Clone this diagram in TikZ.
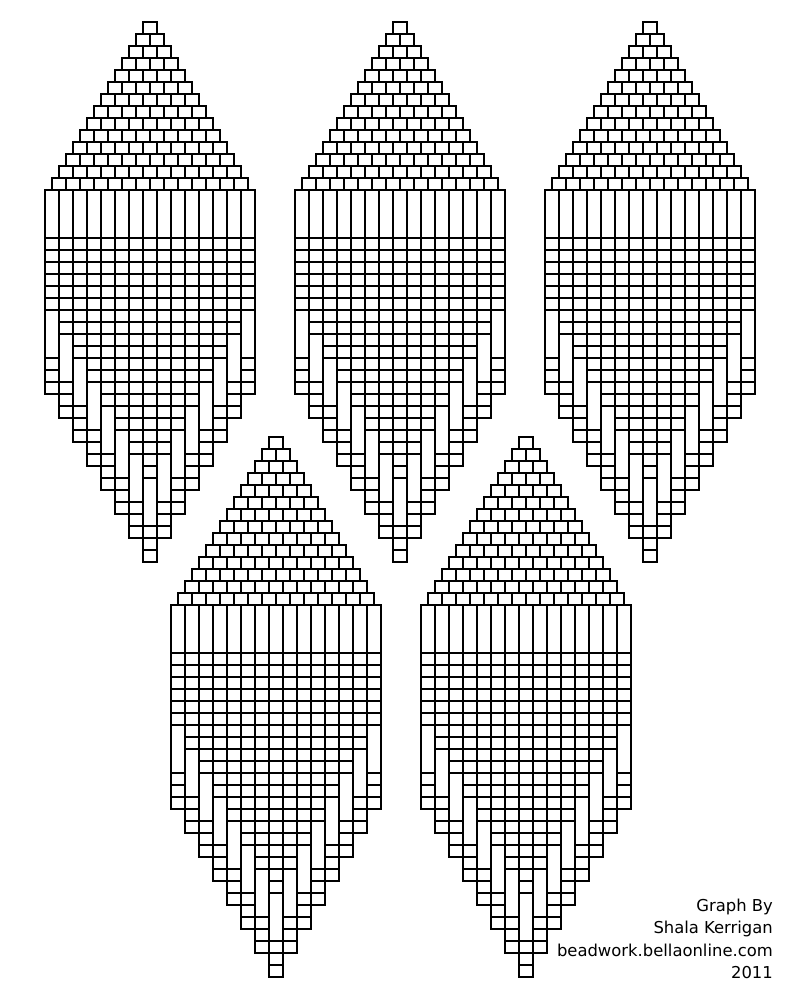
\documentclass[tikz,border=0pt]{standalone}
\usepackage{fontspec}
\newfontfamily\creditfont{DejaVu Sans}
\usetikzlibrary{positioning}

\tikzset{
  bead/.style={draw=black, line width=1.7pt, fill=white},
  credit/.style={font=\creditfont\fontsize{16.4}{22.2}\selectfont, inner sep=0pt, align=right}
}

% one earring: left edge of fringe, top of peak
\newcommand{\earring}[2]{%
  \begin{scope}[shift={(#1,#2)}]
    % brick stitch peak
    \foreach \r in {1,...,14} {
      \foreach \i in {1,...,\r} {
        \draw[bead] ({105-7*\r+14*(\i-1)},{12*(\r-1)}) rectangle ++(14,12);
      }
    }
    % fringe
    \foreach \c in {1,...,15} {
      \pgfmathtruncatemacro{\n}{4+2*min(\c,16-\c)}
      \pgfmathsetmacro{\x}{14*(\c-1)}
      \draw[bead] (\x,168) rectangle ++(14,48);
      \foreach \j in {1,...,\n} {
        \draw[bead] (\x,{204+12*\j}) rectangle ++(14,12);
      }
      \draw[bead] (\x,{216+12*\n}) rectangle ++(14,48);
      \foreach \j in {1,2,3} {
        \draw[bead] (\x,{252+12*\n+12*\j}) rectangle ++(14,12);
      }
    }
  \end{scope}}

\begin{document}
\begin{tikzpicture}[x=1pt, y=-1pt]

  \useasboundingbox (0,0) rectangle (800,1000);

  \earring{45}{22}
  \earring{295}{22}
  \earring{545}{22}
  \earring{171}{437}
  \earring{421}{437}

  \node[credit, anchor=north east] (credit) at (773,899)
    {Graph By\\Shala Kerrigan\\beadwork.bellaonline.com\\2011};

\end{tikzpicture}
\end{document}
